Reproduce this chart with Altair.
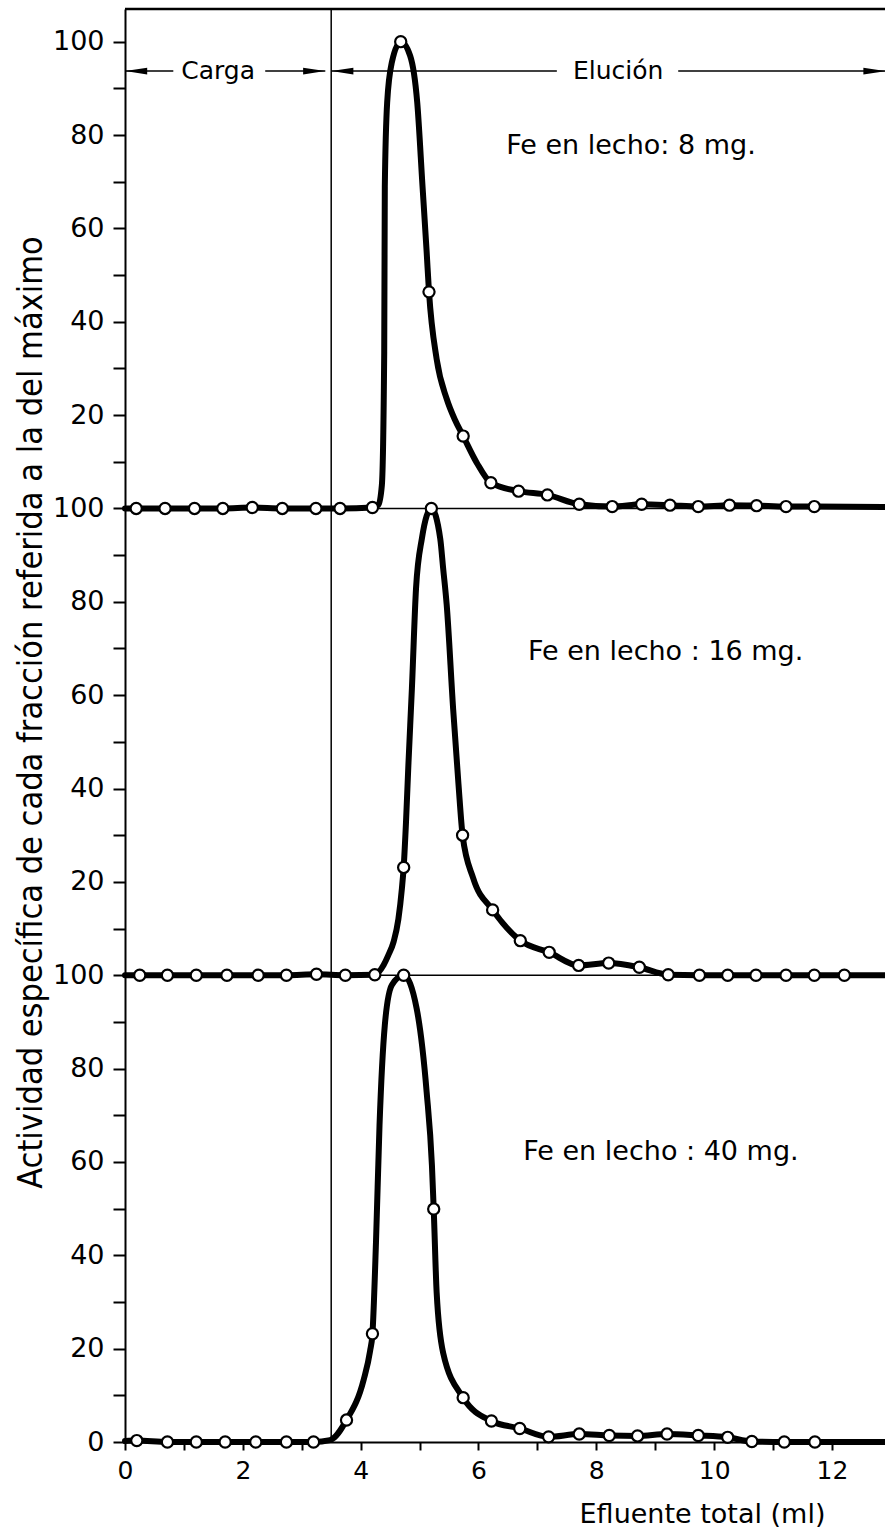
import altair as alt
import pandas as pd

# ---------------- data ----------------
# measured fractions (open circles), value = % of maximum
top_x = [0.19, 0.68, 1.18, 1.66, 2.16, 2.67, 3.24, 3.65, 4.20, 4.68, 5.16, 5.74,
         6.21, 6.68, 7.17, 7.71, 8.27, 8.77, 9.25, 9.73, 10.26, 10.72, 11.22, 11.70]
top_v = [0, 0, 0, 0, 0.2, 0, 0, 0, 0.2, 100, 46.4, 15.5,
         5.5, 3.7, 2.9, 0.9, 0.4, 0.9, 0.7, 0.4, 0.7, 0.6, 0.4, 0.4]

mid_x = [0.25, 0.72, 1.21, 1.73, 2.26, 2.74, 3.25, 3.74, 4.24, 4.73, 5.20, 5.73,
         6.24, 6.71, 7.20, 7.70, 8.21, 8.73, 9.22, 9.75, 10.23, 10.71, 11.22, 11.70, 12.21]
mid_v = [0, 0, 0, 0, 0, 0, 0.2, 0, 0.1, 23.1, 100, 30,
         14, 7.4, 4.9, 2.1, 2.6, 1.7, 0.1, 0, 0, 0, 0, 0, 0]

bot_x = [0.20, 0.72, 1.21, 1.70, 2.22, 2.74, 3.20, 3.76, 4.20, 4.73, 5.24, 5.74,
         6.22, 6.70, 7.19, 7.71, 8.22, 8.70, 9.20, 9.73, 10.23, 10.64, 11.19, 11.71]
bot_v = [0.3, 0, 0, 0, 0, 0, 0, 4.7, 23.2, 100, 49.9, 9.5,
         4.5, 2.9, 1.1, 1.7, 1.4, 1.3, 1.7, 1.4, 1.0, 0.1, 0, 0]

# hand-drawn curves
top_curve_x = [0, 0.19, 0.68, 1.18, 1.66, 2.16, 2.67, 3.24, 3.65, 4.20, 4.30, 4.36, 4.40,
               4.41, 4.45, 4.53, 4.68, 4.84, 4.96, 5.05, 5.12, 5.16, 5.29, 5.46, 5.60,
               5.74, 5.97, 6.21, 6.68, 7.17, 7.71, 8.27, 8.77, 9.25, 9.73, 10.26, 10.72,
               11.22, 11.70, 12.9]
top_curve_v = [0, 0, 0, 0, 0, 0.2, 0, 0, 0, 0.2, 0.8, 5, 33.5,
               69, 87, 95.6, 100, 97, 87, 69, 55, 46.4, 32, 23.5, 19,
               15.5, 9.8, 5.5, 3.7, 2.9, 0.9, 0.4, 0.9, 0.7, 0.4, 0.7, 0.6,
               0.4, 0.4, 0.3]

mid_curve_x = [0, 0.25, 0.72, 1.21, 1.73, 2.26, 2.74, 3.25, 3.74, 4.24, 4.39, 4.47, 4.56,
               4.64, 4.70, 4.73, 4.77, 4.81, 4.87, 4.94, 5.04, 5.20, 5.35, 5.40, 5.46,
               5.57, 5.66, 5.73, 5.91, 6.24, 6.71, 7.20, 7.70, 8.21, 8.73, 9.22, 9.75,
               10.23, 10.71, 11.22, 11.70, 12.21, 12.9]
mid_curve_v = [0, 0, 0, 0, 0, 0, 0, 0.2, 0, 0.1, 2.2, 4.3, 7.2,
               12.0, 18.6, 23.1, 32.9, 45, 61.5, 82.9, 93.6, 100, 93.6, 87.2, 79.4,
               57, 41, 30, 20.8, 14, 7.4, 4.9, 2.1, 2.6, 1.7, 0.1, 0,
               0, 0, 0, 0, 0, 0]

bot_curve_x = [0, 0.20, 0.72, 1.21, 1.70, 2.22, 2.74, 3.20, 3.48, 3.76, 4.05, 4.16, 4.20,
               4.26, 4.32, 4.41, 4.53, 4.73, 4.95, 5.12, 5.21, 5.24, 5.29, 5.40, 5.74,
               6.22, 6.70, 7.19, 7.71, 8.22, 8.70, 9.20, 9.73, 10.23, 10.64, 11.19,
               11.71, 12.9]
bot_curve_v = [0.2, 0.3, 0, 0, 0, 0, 0, 0, 0.4, 4.7, 13.3, 19.5, 23.2,
               42.7, 67.8, 89.3, 97.9, 100, 92.9, 75, 59.2, 49.9, 32, 19.1, 9.5,
               4.5, 2.9, 1.1, 1.7, 1.4, 1.3, 1.7, 1.4, 1.0, 0.1, 0,
               0, 0]

panel_names = ["8 mg", "16 mg", "40 mg"]
panel_offsets = [200, 100, 0]          # panels are stacked on one vertical scale

panel_labels = ["Fe en lecho: 8 mg.", "Fe en lecho : 16 mg.", "Fe en lecho : 40 mg."]
panel_label_x = [6.47, 6.84, 6.76]
panel_label_v = [77.7, 69.3, 62.1]

# phase annotations (Carga / Elución)
phase_y = 293.7
phase_text = ["Carga", "Elución"]
phase_text_x = [1.58, 8.37]
seg_x1 = [0, 2.38, 3.50, 9.39]
seg_x2 = [0.82, 3.40, 7.33, 12.9]
arrow_x = [0.19, 3.21, 3.69, 12.72]
arrow_dir = ["left", "right", "left", "right"]
boundary_x = 3.5

x_ticks = list(range(0, 13))
y_ticks = list(range(0, 301, 10))
XMAX, YMAX = 12.9, 307

# ---------------- build tables ----------------
pts, crv = [], []
for name, off, xs_, vs_, cx, cv in [
    (panel_names[0], panel_offsets[0], top_x, top_v, top_curve_x, top_curve_v),
    (panel_names[1], panel_offsets[1], mid_x, mid_v, mid_curve_x, mid_curve_v),
    (panel_names[2], panel_offsets[2], bot_x, bot_v, bot_curve_x, bot_curve_v),
]:
    pts += [{"panel": name, "x": a, "y": off + b} for a, b in zip(xs_, vs_)]
    crv += [{"panel": name, "x": a, "y": off + b, "o": i} for i, (a, b) in enumerate(zip(cx, cv))]
pts_df = pd.DataFrame(pts)
crv_df = pd.DataFrame(crv)

lab_df = pd.DataFrame({"t": panel_labels, "x": panel_label_x,
                       "y": [o + v for o, v in zip(panel_offsets, panel_label_v)]})
phase_df = pd.DataFrame({"t": phase_text, "x": phase_text_x, "y": [phase_y] * 2})
seg_df = pd.DataFrame({"x": seg_x1, "x2": seg_x2, "y": [phase_y] * len(seg_x1)})
arr_df = pd.DataFrame({"x": arrow_x, "d": arrow_dir, "y": [phase_y] * len(arrow_x)})
hline_df = pd.DataFrame({"y": [100, 200]})
top_df = pd.DataFrame({"y": [YMAX]})
vline_df = pd.DataFrame({"x": [boundary_x], "y": [0], "y2": [YMAX]})

FONT = "DejaVu Sans"
TITLE_FONT = "DejaVu Sans Condensed, Liberation Sans Narrow, DejaVu Sans"

xs = alt.Scale(domain=[0, XMAX], nice=False, zero=False)
ys = alt.Scale(domain=[0, YMAX], nice=False, zero=False)

x_axis = alt.Axis(values=x_ticks,
                  labelExpr="datum.value % 2 == 0 ? '' + datum.value : ''",
                  tickSize=8, tickWidth=2, domainWidth=2, domainColor="black",
                  tickColor="black", labelColor="black", labelFont=FONT,
                  labelFontSize=25, labelPadding=8, labelFlush=False, grid=False,
                  title="Efluente total (ml)", titleFont=FONT, titleFontSize=27,
                  titleFontWeight="normal", titleColor="black",
                  titleX=577, titleY=80, titleAlign="center", titleBaseline="alphabetic")

y_axis = alt.Axis(values=y_ticks,
                  labelExpr="datum.value % 20 != 0 ? '' : (datum.value == 0 ? '0' : (datum.value % 100 == 0 ? '100' : '' + (datum.value % 100)))",
                  tickSize=12, tickWidth=2, domainWidth=2, domainColor="black",
                  tickColor="black", labelColor="black", labelFont=FONT,
                  labelFontSize=27, labelPadding=9, labelFlush=False, grid=False,
                  title="Actividad específica de cada fracción referida a la del máximo",
                  titleFont=TITLE_FONT, titleFontSize=34, titleFontWeight="normal",
                  titleColor="black", titleAngle=270, titleX=-94, titleY=703,
                  titleAlign="center", titleBaseline="middle")

line = alt.Chart(crv_df).mark_line(color="black", strokeWidth=6, interpolate="monotone",
                                   strokeJoin="round", strokeCap="round").encode(
    x=alt.X("x:Q", scale=xs, axis=x_axis),
    y=alt.Y("y:Q", scale=ys, axis=y_axis),
    detail="panel:N",
    order="o:Q",
)

points = alt.Chart(pts_df).mark_point(shape="circle", filled=True, fill="white", stroke="black",
                                      strokeWidth=2.2, size=125, opacity=1).encode(
    x=alt.X("x:Q", scale=xs), y=alt.Y("y:Q", scale=ys))

hlines = alt.Chart(hline_df).mark_rule(color="black", strokeWidth=1.5).encode(
    y=alt.Y("y:Q", scale=ys))
topline = alt.Chart(top_df).mark_rule(color="black", strokeWidth=2.5).encode(
    y=alt.Y("y:Q", scale=ys))
vline = alt.Chart(vline_df).mark_rule(color="black", strokeWidth=1.5).encode(
    x=alt.X("x:Q", scale=xs), y=alt.Y("y:Q", scale=ys), y2="y2:Q")

segs = alt.Chart(seg_df).mark_rule(color="black", strokeWidth=1.5).encode(
    x=alt.X("x:Q", scale=xs), x2="x2:Q", y=alt.Y("y:Q", scale=ys))

path_left = "M-1,0L1,-0.3L1,0.3Z"
path_right = "M1,0L-1,-0.3L-1,0.3Z"
arrows = alt.Chart(arr_df).mark_point(filled=True, color="black", size=484, opacity=1).encode(
    x=alt.X("x:Q", scale=xs), y=alt.Y("y:Q", scale=ys),
    shape=alt.Shape("d:N", scale=alt.Scale(domain=["left", "right"], range=[path_left, path_right]),
                    legend=None))

phase_txt = alt.Chart(phase_df).mark_text(font=FONT, fontSize=25, color="black",
                                          align="center", baseline="middle").encode(
    x=alt.X("x:Q", scale=xs), y=alt.Y("y:Q", scale=ys), text="t:N")

lab_txt = alt.Chart(lab_df).mark_text(font=FONT, fontSize=27, color="black",
                                      align="left", baseline="middle").encode(
    x=alt.X("x:Q", scale=xs), y=alt.Y("y:Q", scale=ys), text="t:N")

chart = alt.layer(hlines, topline, vline, segs, arrows, phase_txt, lab_txt, line, points).properties(
    width=760, height=1433,
    padding={"left": 125, "top": 9, "right": 0, "bottom": 90},
    autosize=alt.AutoSizeParams(type="none"),
    background="white",
).configure_view(stroke=None)

chart.save("out.html", embed_options={"renderer": "svg", "actions": False})
